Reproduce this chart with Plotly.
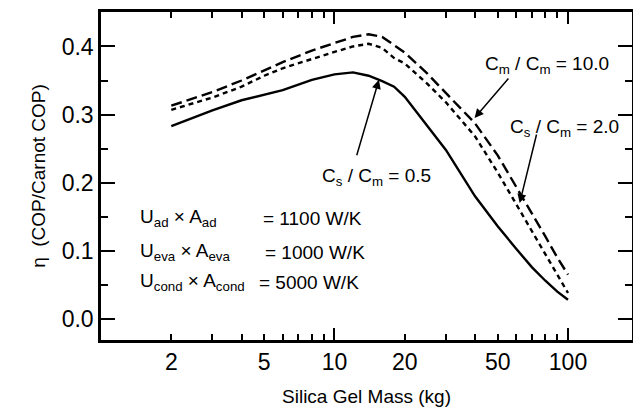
import math
import plotly.graph_objects as go

# ---------------- data ----------------
silica_mass = [2, 3, 4, 5, 6, 8, 10, 12, 14, 16, 18, 20, 25, 30, 40, 50, 60, 70, 80, 90, 100]
eta_cs_05 = [0.283, 0.306, 0.321, 0.329, 0.336, 0.351, 0.359, 0.362, 0.357, 0.349, 0.341,
             0.326, 0.284, 0.248, 0.180, 0.136, 0.103, 0.076, 0.056, 0.040, 0.028]
eta_cs_20 = [0.307, 0.325, 0.341, 0.357, 0.368, 0.382, 0.392, 0.400, 0.404, 0.398, 0.383,
             0.375, 0.345, 0.318, 0.268, 0.215, 0.168, 0.128, 0.095, 0.064, 0.038]
eta_cm_100 = [0.313, 0.333, 0.350, 0.365, 0.377, 0.394, 0.405, 0.414, 0.418, 0.414, 0.402,
              0.391, 0.360, 0.332, 0.287, 0.240, 0.195, 0.155, 0.121, 0.090, 0.065]

x_major_ticks = [2, 5, 10, 20, 50, 100]
x_major_labels = ["2", "5", "10", "20", "50", "100"]
x_minor_ticks = [3, 4, 6, 7, 8, 9, 30, 40, 60, 70, 80, 90]
x_decade_ticks = [10, 100]
y_ticks = [0.0, 0.1, 0.2, 0.3, 0.4]
y_labels = ["0.0", "0.1", "0.2", "0.3", "0.4"]

x_range = [1.0, 188.0]
y_range = [-0.031, 0.4506]

# curve labels: (text, text x, text y, arrow tail x, arrow tail y, arrow tip x, arrow tip y)
curve_labels = [
    ("C<sub>s</sub> / C<sub>m</sub> = 0.5", 15.2, 0.208, 12.4, 0.238, 15.5, 0.351),
    ("C<sub>m</sub> / C<sub>m</sub> = 10.0", 81.7, 0.373, 56.3, 0.355, 39.8, 0.295),
    ("C<sub>s</sub> / C<sub>m</sub> = 2.0", 97.0, 0.280, 73.6, 0.273, 62.1, 0.170),
]

# parameter block: (left text, right text, y, x of right part)
param_rows = [
    ("U<sub>ad</sub> × A<sub>ad</sub>", "= 1100 W/K", 0.148, 4.85),
    ("U<sub>eva</sub> × A<sub>eva</sub>", "= 1000 W/K", 0.098, 4.95),
    ("U<sub>cond</sub> × A<sub>cond</sub>", "= 5000 W/K", 0.054, 4.65),
]
param_x = 1.44

FONT = "Liberation Sans, Arial, Helvetica, sans-serif"

fig = go.Figure()

series = [
    (eta_cs_05, "solid", "x", "Cs/Cm = 0.5"),
    (eta_cs_20, "5px,4px", "x", "Cs/Cm = 2.0"),
    (eta_cm_100, "11px,5px", "x2", "Cm/Cm = 10.0"),
]
for ys, dash, xa, name in series:
    fig.add_trace(go.Scatter(
        x=silica_mass, y=ys, mode="lines", name=name, xaxis=xa, yaxis="y",
        line=dict(color="black", width=2.4, dash=dash),
        showlegend=False, hoverinfo="skip",
    ))

annotations = []
for text, tx, ty, ax_, ay_, hx, hy in curve_labels:
    annotations.append(dict(
        x=math.log10(tx), y=ty, xref="x", yref="y", text=text, showarrow=False,
        font=dict(family=FONT, size=19, color="black"), xanchor="center", yanchor="middle",
    ))
    annotations.append(dict(
        x=math.log10(hx), y=hy, xref="x", yref="y", text="",
        ax=math.log10(ax_), ay=ay_, axref="x", ayref="y",
        showarrow=True, arrowhead=2, arrowsize=1.2, arrowwidth=1.5, arrowcolor="black",
    ))
for left, right, ry, rx in param_rows:
    annotations.append(dict(
        x=math.log10(param_x), y=ry, xref="x", yref="y", text=left, showarrow=False,
        font=dict(family=FONT, size=19, color="black"), xanchor="left", yanchor="middle",
    ))
    annotations.append(dict(
        x=math.log10(rx), y=ry, xref="x", yref="y", text=right, showarrow=False,
        font=dict(family=FONT, size=19, color="black"), xanchor="left", yanchor="middle",
    ))

log_range = [math.log10(x_range[0]), math.log10(x_range[1])]

fig.update_layout(
    template="none",
    width=633, height=415,
    margin=dict(l=101, r=1, t=12, b=75, autoexpand=False),
    paper_bgcolor="white", plot_bgcolor="white",
    font=dict(family=FONT, color="black"),
    annotations=annotations,
    xaxis=dict(
        type="log", range=log_range, automargin=False, showgrid=False, zeroline=False,
        tickmode="array", tickvals=x_major_ticks, ticktext=x_major_labels,
        ticks="inside", ticklen=6, tickwidth=2, tickcolor="black",
        minor=dict(tickmode="array", tickvals=x_minor_ticks, ticks="inside",
                   ticklen=6, tickwidth=2, tickcolor="black", showgrid=False),
        showline=True, linewidth=2.5, linecolor="black", mirror="ticks",
        tickfont=dict(family=FONT, size=23, color="black"),
        title=dict(text="Silica Gel Mass (kg)", font=dict(family=FONT, size=19, color="black"),
                   standoff=16),
    ),
    xaxis2=dict(
        type="log", range=log_range, overlaying="x", anchor="y", side="bottom",
        automargin=False, showgrid=False, zeroline=False,
        tickmode="array", tickvals=x_decade_ticks, showticklabels=False,
        ticks="inside", ticklen=12, tickwidth=2, tickcolor="black",
        showline=False, mirror="ticks",
    ),
    yaxis=dict(
        range=y_range, automargin=False, showgrid=False, zeroline=False,
        tickmode="array", tickvals=y_ticks, ticktext=y_labels,
        ticks="inside", ticklen=14, tickwidth=2, tickcolor="black",
        minor=dict(dtick=0.05, tick0=0, ticks="inside", ticklen=7, tickwidth=2,
                   tickcolor="black", showgrid=False),
        showline=True, linewidth=2.5, linecolor="black", mirror="ticks",
        tickfont=dict(family=FONT, size=23, color="black"),
        title=dict(text="η  (COP/Carnot COP)", font=dict(family=FONT, size=19, color="black"),
                   standoff=12),
    ),
)

fig.write_html("out.html", post_script="document.body.style.margin='0px';",
               config={"displayModeBar": False})
